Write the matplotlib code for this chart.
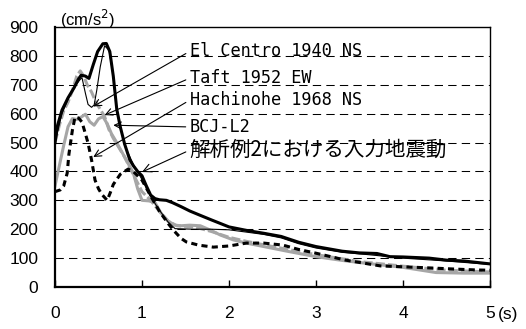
import matplotlib
matplotlib.use('Agg')
import matplotlib.pyplot as plt

plt.rcParams['font.family'] = ['Liberation Sans', 'DejaVu Sans']

# input motion of analysis example 2 (thick black)
t_inp = [0, 0.03, 0.08, 0.15, 0.22, 0.27, 0.3, 0.35, 0.39, 0.44, 0.49, 0.55, 0.59, 0.63,
         0.67, 0.71, 0.75, 0.8, 0.86, 0.9, 0.95, 1.0, 1.05, 1.1, 1.15, 1.2, 1.28, 1.35,
         1.45, 1.55, 1.67, 1.8, 1.9, 2.0, 2.2, 2.4, 2.6, 2.8, 3.0, 3.3, 3.5, 3.7, 3.85,
         4.0, 4.3, 4.5, 4.7, 5.0]
v_inp = [500, 560, 612, 655, 690, 720, 733, 730, 722, 770, 815, 842, 843, 815,
         730, 615, 555, 495, 440, 420, 400, 385, 350, 318, 306, 302, 300, 292,
         278, 263, 248, 232, 220, 208, 196, 186, 175, 155, 140, 124, 118, 116, 105,
         104, 100, 93, 90, 80]

# El Centro 1940 NS (thin black)
t_elc = [0, 0.08, 0.15, 0.22, 0.28, 0.31, 0.35, 0.38, 0.42, 0.45, 0.48, 0.52, 0.57,
         0.62, 0.67, 0.71, 0.76, 0.8, 0.9, 1.0, 1.1, 1.2, 1.3, 1.38, 1.6, 1.8, 2.0,
         2.2, 2.4, 2.6, 2.8, 3.0, 3.3, 3.6, 4.0, 4.5, 5.0]
v_elc = [500, 600, 650, 690, 715, 725, 670, 632, 622, 630, 681, 762, 835,
         820, 730, 620, 545, 490, 425, 372, 312, 266, 225, 202, 200, 200, 198,
         190, 182, 170, 150, 135, 120, 112, 100, 90, 78]

# Taft 1952 EW (gray dashed)
t_taft = [0, 0.05, 0.1, 0.15, 0.2, 0.25, 0.29, 0.33, 0.37, 0.42, 0.47, 0.52, 0.57,
          0.62, 0.67, 0.72, 0.8, 0.9, 1.0, 1.1, 1.2, 1.3, 1.4, 1.6, 1.8, 2.0, 2.2,
          2.5, 3.0, 3.5, 4.0, 4.5, 5.0]
v_taft = [500, 560, 610, 640, 680, 730, 748, 730, 700, 675, 640, 615, 590,
          545, 515, 490, 450, 390, 330, 300, 262, 228, 212, 208, 192, 172, 158,
          140, 112, 88, 72, 58, 52]

# Hachinohe 1968 NS (black dotted)
t_hach = [0, 0.06, 0.1, 0.14, 0.16, 0.2, 0.23, 0.27, 0.31, 0.35, 0.38, 0.42, 0.46,
          0.5, 0.54, 0.6, 0.64, 0.67, 0.75, 0.84, 0.9, 1.0, 1.1, 1.2, 1.3, 1.36,
          1.45, 1.51, 1.65, 1.82, 2.0, 2.2, 2.4, 2.62, 2.8, 3.0, 3.34, 3.74, 4.0,
          4.31, 4.6, 4.84, 5.0]
v_hach = [330, 336, 350, 394, 460, 543, 588, 585, 571, 530, 498, 440, 370,
          340, 320, 300, 330, 355, 390, 408, 400, 370, 315, 262, 220, 197,
          168, 156, 145, 138, 142, 152, 152, 145, 130, 117, 93, 73, 70,
          66, 62, 59, 58]

# BCJ-L2 (gray solid)
t_bcj = [0, 0.05, 0.1, 0.15, 0.2, 0.25, 0.3, 0.35, 0.4, 0.45, 0.5, 0.55, 0.6, 0.65,
         0.7, 0.8, 0.9, 0.95, 1.0, 1.08, 1.15, 1.22, 1.3, 1.38, 1.45, 1.55, 1.67,
         1.8, 1.9, 2.05, 2.2, 2.4, 2.7, 3.0, 3.3, 3.55, 4.0, 4.38, 4.7, 5.0]
v_bcj = [350, 420, 490, 555, 583, 580, 588, 598, 572, 560, 582, 590, 565, 530,
         505, 450, 395, 340, 300, 298, 292, 255, 228, 214, 212, 214, 212,
         195, 180, 163, 152, 140, 122, 105, 92, 83, 68, 50, 48, 48]

labels = ['El Centro 1940 NS', 'Taft 1952 EW', 'Hachinohe 1968 NS', 'BCJ-L2', '解析例2における入力地震動']
label_y = [816, 723, 647, 554, 474]
arrow_tip = [(0.44, 625), (0.57, 595), (0.44, 450), (0.67, 560), (1.0, 398)]

fig = plt.figure(figsize=(5.26, 3.29), dpi=100)
ax = fig.add_axes([55 / 526, 1 - 287 / 329, 435 / 526, 260 / 329])

for yv in range(100, 900, 100):
    ax.axhline(yv, color='black', lw=0.75, linestyle=(0, (8, 5)), zorder=1)

gray = '#a6a6a6'
ax.plot(t_bcj, v_bcj, color=gray, lw=2.2, zorder=2)
ax.plot(t_taft, v_taft, color=gray, lw=2.2, linestyle=(0, (3, 1)), zorder=2)
ax.plot(t_hach, v_hach, color='black', lw=2.2, linestyle=(0, (2, 1.4)), zorder=3)
ax.plot(t_elc, v_elc, color='black', lw=0.8, zorder=4)
ax.plot(t_inp, v_inp, color='black', lw=2.2, zorder=4)

for i in range(len(labels)):
    if i == 4:
        fam = ['Noto Sans CJK JP', 'DejaVu Sans']
        fs = 14.8
    else:
        fam = ['DejaVu Sans Mono', 'DejaVu Sans']
        fs = 12.2
    ax.annotate(labels[i], xy=arrow_tip[i], xytext=(1.55, label_y[i]),
                ha='left', va='center', fontsize=fs, family=fam, zorder=5,
                arrowprops=dict(arrowstyle='->', lw=0.8, color='black',
                                shrinkA=1, shrinkB=0, relpos=(0, 0.5)))

ax.set_xlim(0, 5)
ax.set_ylim(0, 900)
ax.set_xticks(range(6))
ax.set_yticks(range(0, 1000, 100))
ax.tick_params(axis='x', direction='in', length=5, width=1, pad=14, labelsize=12.5)
ax.tick_params(axis='y', direction='in', length=0, pad=12, labelsize=12.5)
ax.spines['left'].set_linewidth(1.6)
ax.spines['bottom'].set_linewidth(1.6)
ax.spines['top'].set_linewidth(1.0)
ax.spines['right'].set_linewidth(1.0)

fig.text(498 / 526, 1 - 315 / 329, '(s)', fontsize=12.5, va='center', ha='left')
fig.text(60 / 526, 1 - 19 / 329, '(cm/s$^2$)', fontsize=12, va='center', ha='left')

fig.savefig('out.png', dpi=100)
